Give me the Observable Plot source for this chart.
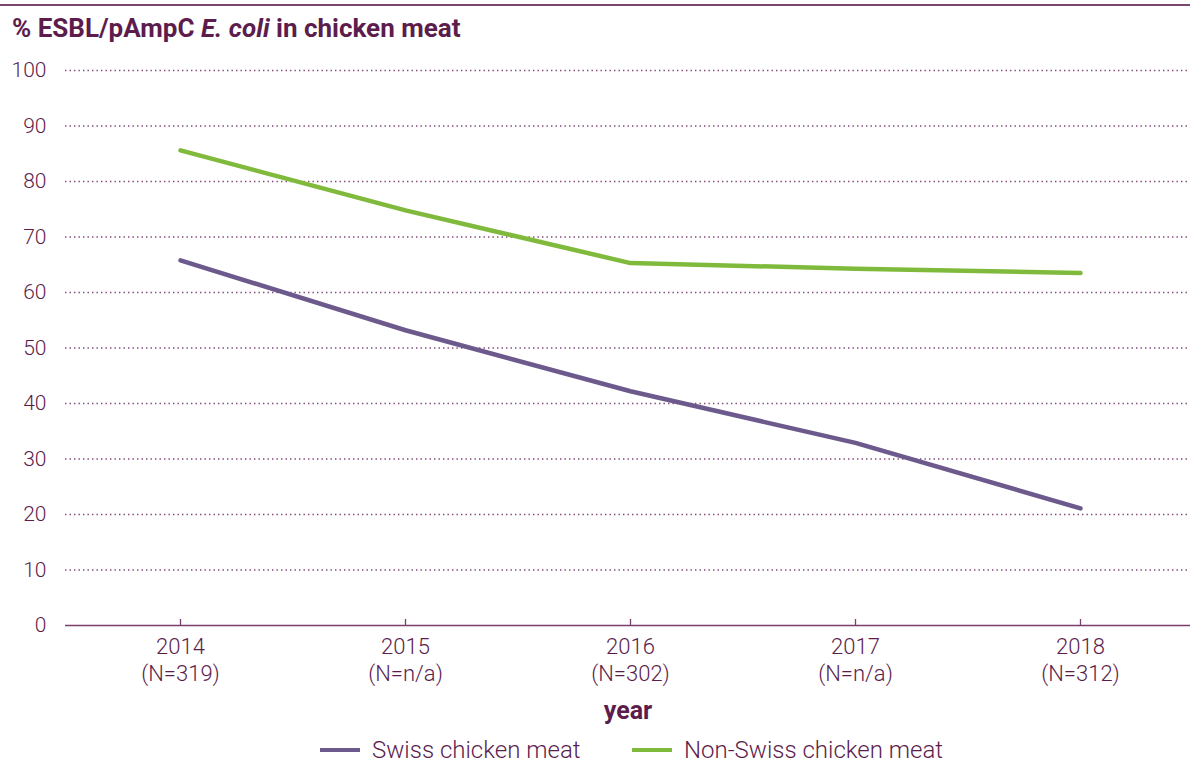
<!DOCTYPE html>
<html>
<head>
<meta charset="utf-8">
<script src="https://cdn.jsdelivr.net/npm/d3@7"></script>
<script src="https://cdn.jsdelivr.net/npm/@observablehq/plot@0.6"></script>
<style>
  body { margin: 0; background: #fff; width: 1190px; height: 762px; position: relative; overflow: hidden; font-family: Roboto, "Liberation Sans", sans-serif; color: #5c1d4d; }
  #rule { position: absolute; left: 0; top: 4px; width: 1190px; height: 2px; background: #7a466f; }
  #title { position: absolute; left: 12px; top: 13px; font-size: 26px; font-weight: 700; line-height: 30px; white-space: nowrap; }
  #chart { position: absolute; left: 0; top: 50px; }
  #legend { position: absolute; left: 0; top: 735px; width: 1190px; height: 30px; font-size: 24px; font-weight: 300; }
  .item { position: absolute; top: 0; display: flex; align-items: center; height: 30px; white-space: nowrap; }
  .sw { width: 40px; height: 4px; margin-right: 12px; }
</style>
</head>
<body>
<div id="rule"></div>
<div id="title">% ESBL/pAmpC <i>E. coli</i> in chicken meat</div>
<div id="chart"></div>
<div id="legend"></div>
<script>
const years = [2014, 2015, 2016, 2017, 2018];
const nLabels = ["319", "n/a", "302", "n/a", "312"];
const seriesNames = ["Swiss chicken meat", "Non-Swiss chicken meat"];
const seriesColors = ["#6c5a8c", "#80ba3c"];
const swiss = [65.8, 53.2, 42.2, 32.9, 21.1];
const nonSwiss = [85.6, 74.8, 65.3, 64.3, 63.5];
const yTicks = [0, 10, 20, 30, 40, 50, 60, 70, 80, 90, 100];

const data = [
  ...years.map((y, i) => ({year: y, value: swiss[i], series: seriesNames[0]})),
  ...years.map((y, i) => ({year: y, value: nonSwiss[i], series: seriesNames[1]}))
];

const textColor = "#5c1d4d";

const chart = Plot.plot({
  width: 1190,
  height: 680,
  marginTop: 20,
  marginLeft: 65,
  marginRight: 0,
  marginBottom: 105,
  style: {fontFamily: "Roboto, 'Liberation Sans', sans-serif", fontSize: "21px", color: textColor, background: "transparent", overflow: "visible"},
  x: {type: "point", domain: years, range: [178, 1081], padding: 0},
  y: {domain: [0, 100]},
  color: {domain: seriesNames, range: seriesColors},
  marks: [
    Plot.gridY(yTicks.filter(d => d > 0), {stroke: "#7e4775", strokeOpacity: 1, strokeWidth: 1.4, strokeDasharray: "1.4 3.1"}),
    Plot.ruleY([0], {stroke: "#7a3f6c", strokeWidth: 1.5}),
    Plot.axisY({ticks: yTicks, tickSize: 0, tickPadding: 19, label: null, fontWeight: 300, fontSize: 21, fill: textColor}),
    Plot.axisX({tickSize: 6, dy: -6, stroke: "#7a3f6c", strokeWidth: 1.3, tickFormat: () => "", label: null}),
    Plot.axisX({tickSize: 0, tickPadding: 10, lineHeight: 1.2, fontWeight: 300, fontSize: 22, fill: textColor,
      tickFormat: d => `${d}\n(N=${nLabels[years.indexOf(d)]})`, label: null}),
    Plot.text(["year"], {frameAnchor: "bottom", dy: 93, fontWeight: 700, fontSize: 25, fill: textColor}),
    Plot.line(data, {x: "year", y: "value", stroke: "series", strokeWidth: 4.5, strokeLinejoin: "round"})
  ]
});
document.getElementById("chart").appendChild(chart);

const legend = document.getElementById("legend");
const legendX = [320, 632];
seriesNames.forEach((name, i) => {
  const item = document.createElement("div");
  item.className = "item";
  item.style.left = legendX[i] + "px";
  item.innerHTML = `<span class="sw" style="background:${seriesColors[i]}"></span><span>${name}</span>`;
  legend.appendChild(item);
});
</script>
</body>
</html>
